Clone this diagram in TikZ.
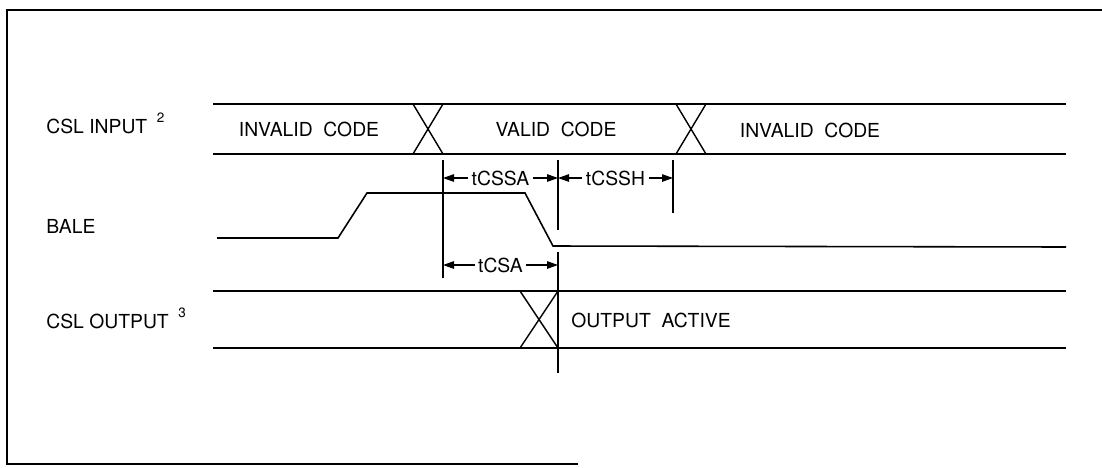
\documentclass[tikz,border=0pt]{standalone}
\usepackage{fontspec}
\setmainfont{TeX Gyre Heros}
\usetikzlibrary{arrows.meta, positioning, calc}

\begin{document}
\begin{tikzpicture}[
    x=0.02cm, y=-0.02cm,
    font=\fontsize{11}{13}\selectfont,
    >={Triangle[length=2.2mm,width=1.5mm]},
    frameline/.style={line width=0.9pt},
    busline/.style={line width=1.2pt},
    crossline/.style={line width=0.8pt},
    sigline/.style={line width=0.9pt},
    markline/.style={line width=0.7pt},
    dimarrow/.style={<->, line width=0.7pt},
    dimlabel/.style={fill=white, inner sep=2pt},
    siglabel/.style={anchor=base west, inner sep=0pt},
    buslabel/.style={anchor=base, inner sep=0pt},
  ]
  \useasboundingbox (0,0) rectangle (1102,467);

  % -----------------------------------------------------------
  % Frame (open on the right)
  % -----------------------------------------------------------
  \coordinate (frTR) at (1102,10);
  \coordinate (frTL) at (7,10);
  \coordinate (frBL) at (7,464);
  \coordinate (frBR) at (578,464);
  \draw[frameline] (frTR) -- (frTL) -- (frBL) -- (frBR);

  % -----------------------------------------------------------
  % Signal names (left column)
  % -----------------------------------------------------------
  \node[siglabel] (nin)   at (46,133)
        {CSL INPUT\enspace\raisebox{0.3ex}{\textsuperscript{2}}};
  \node[siglabel] (nbale) at (46,233) {BALE};
  \node[siglabel] (nout)  at (46,328)
        {CSL OUTPUT\enspace\raisebox{0.3ex}{\textsuperscript{3}}};

  % -----------------------------------------------------------
  % CSL input bus
  % -----------------------------------------------------------
  \coordinate (inTL) at (213,104);
  \coordinate (inTR) at (1066,104);
  \coordinate (inBL) at (213,154);
  \coordinate (inBR) at (1066,154);
  \draw[busline] (inTL) -- (inTR);
  \draw[busline] (inBL) -- (inBR);
  \foreach \cx in {428,691} {
    \draw[crossline] ({\cx-15},104) -- ({\cx+15},154);
    \draw[crossline] ({\cx+15},104) -- ({\cx-15},154);
  }
  \node[buslabel] (inv1)  at (309,136) {INVALID\ \ CODE};
  \node[buslabel] (valid) at (556,136) {VALID\ \ CODE};
  \node[buslabel] (inv2)  at (810,137) {INVALID\ \ CODE};

  % -----------------------------------------------------------
  % BALE waveform
  % -----------------------------------------------------------
  \coordinate (bStart) at (217,238);
  \coordinate (bRise0) at (338,238);
  \coordinate (bRise1) at (367,193);
  \coordinate (bFall0) at (525,193);
  \coordinate (bFall1) at (553,246);
  \coordinate (bEnd)   at (1066,247);
  \draw[sigline] (bStart) -- (bRise0) -- (bRise1) -- (bFall0)
                 -- (bFall1) -- (bEnd);

  % -----------------------------------------------------------
  % CSL output bus
  % -----------------------------------------------------------
  \coordinate (outTL) at (213,291);
  \coordinate (outTR) at (1066,291);
  \coordinate (outBL) at (213,348);
  \coordinate (outBR) at (1066,348);
  \draw[busline] (outTL) -- (outTR);
  \draw[busline] (outBL) -- (outBR);
  \draw[crossline] (520,291) -- (558,348);
  \draw[crossline] (558,291) -- (520,348);
  \node[siglabel] (active) at (571,327) {OUTPUT\ \ ACTIVE};

  % -----------------------------------------------------------
  % Timing markers
  % -----------------------------------------------------------
  \coordinate (mA)  at (443,160);  \coordinate (mAe) at (443,278);
  \coordinate (mB)  at (558,160);  \coordinate (mBe) at (558,230);
  \coordinate (mC)  at (558,252);  \coordinate (mCe) at (558,373);
  \coordinate (mD)  at (673,160);  \coordinate (mDe) at (673,213);
  \draw[markline] (mA) -- (mAe);
  \draw[markline] (mB) -- (mBe);
  \draw[markline] (mC) -- (mCe);
  \draw[markline] (mD) -- (mDe);

  % dimension rows
  \coordinate (rowHi) at (0,178);
  \coordinate (rowLo) at (0,265);

  \draw[dimarrow] (mA |- rowHi) -- node[dimlabel] (tcssa) {tCSSA} (mB |- rowHi);
  \draw[dimarrow] (mB |- rowHi) -- node[dimlabel] (tcssh) {tCSSH} (mD |- rowHi);
  \draw[dimarrow] (mA |- rowLo) -- node[dimlabel] (tcsa)  {tCSA}  (mC |- rowLo);

\end{tikzpicture}
\end{document}
